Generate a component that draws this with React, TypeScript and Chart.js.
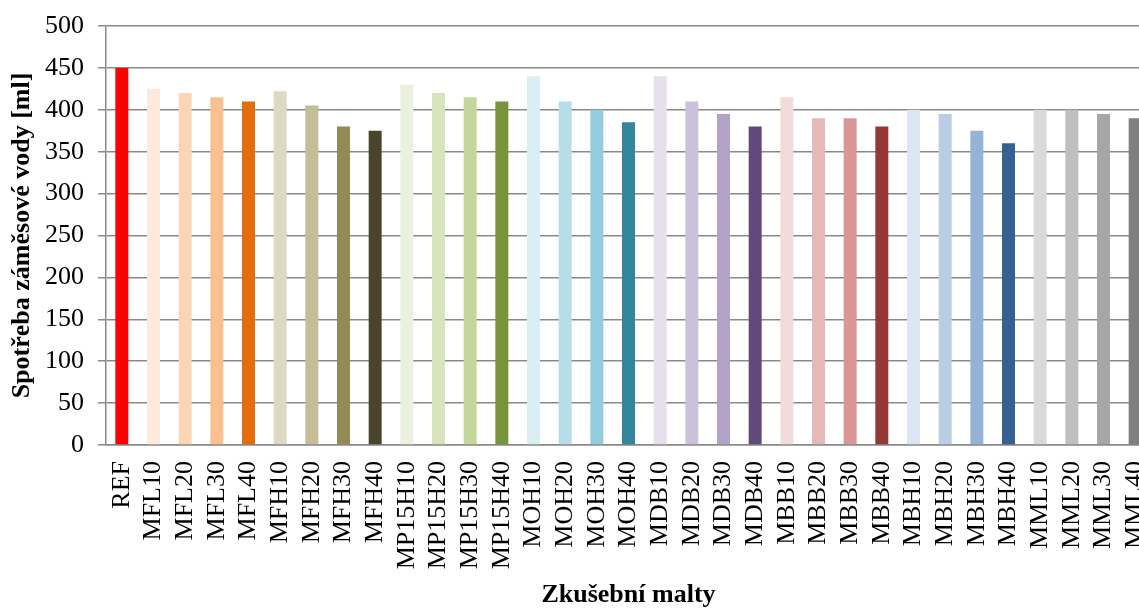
import React, { useEffect, useRef } from "react";
import { Chart, registerables } from "chart.js";

Chart.register(...registerables);

const categories = [
  "REF",
  "MFL10", "MFL20", "MFL30", "MFL40",
  "MFH10", "MFH20", "MFH30", "MFH40",
  "MP15H10", "MP15H20", "MP15H30", "MP15H40",
  "MOH10", "MOH20", "MOH30", "MOH40",
  "MDB10", "MDB20", "MDB30", "MDB40",
  "MBB10", "MBB20", "MBB30", "MBB40",
  "MBH10", "MBH20", "MBH30", "MBH40",
  "MML10", "MML20", "MML30", "MML40",
];

const waterValues = [
  450,
  425, 420, 415, 410,
  422, 405, 380, 375,
  430, 420, 415, 410,
  440, 410, 400, 385,
  440, 410, 395, 380,
  415, 390, 390, 380,
  400, 395, 375, 360,
  400, 400, 395, 390,
];

const barColors = [
  "#FF0000",
  "#FDEADA", "#FCD5B5", "#FAC090", "#E46C0A",
  "#DDD9C3", "#C4BD97", "#948A54", "#4A452A",
  "#EBF1DE", "#D7E4BD", "#C3D69B", "#77933C",
  "#DBEEF4", "#B7DEE8", "#93CDDD", "#31859C",
  "#E6E0EC", "#CCC1DA", "#B3A2C7", "#604A7B",
  "#F2DCDB", "#E6B9B8", "#D99694", "#953735",
  "#DCE6F2", "#B9CDE5", "#95B3D7", "#376092",
  "#D9D9D9", "#BFBFBF", "#A6A6A6", "#7F7F7F",
];

const yTitle = "Spotřeba záměsové vody [ml]";
const xTitle = "Zkušební malty";

const FONT = "'Liberation Serif', 'Times New Roman', serif";
const GRID = "#898989";

export default function App() {
  const ref = useRef<HTMLCanvasElement | null>(null);

  useEffect(() => {
    document.body.style.margin = "0";
    const canvas = ref.current!;
    const chart = new Chart(canvas, {
      type: "bar",
      data: {
        labels: categories,
        datasets: [
          {
            data: waterValues,
            backgroundColor: barColors,
            borderWidth: 0,
            barPercentage: 0.41,
            categoryPercentage: 1,
          },
        ],
      },
      options: {
        responsive: false,
        animation: false,
        devicePixelRatio: 1,
        layout: { padding: { top: 26, right: 9, left: 0, bottom: 0 } },
        plugins: { legend: { display: false }, tooltip: { enabled: false } },
        scales: {
          x: {
            grid: { display: false, drawTicks: false },
            border: { display: true, color: GRID, width: 1.5 },
            ticks: {
              autoSkip: false,
              minRotation: 90,
              maxRotation: 90,
              padding: 16,
              color: "#000",
              font: { family: FONT, size: 26 },
            },
            title: {
              display: true,
              text: xTitle,
              color: "#000",
              font: { family: FONT, size: 26, weight: "bold" },
              padding: { top: 0, bottom: -3 },
            },
            afterFit: (scale: any) => {
              scale.height = 163;
              scale.paddingLeft = 0;
              scale.paddingRight = 0;
            },
          },
          y: {
            min: 0,
            max: 500,
            ticks: {
              stepSize: 50,
              padding: 14,
              color: "#000",
              font: { family: FONT, size: 26 },
            },
            grid: {
              color: GRID,
              lineWidth: 1.5,
              tickLength: 8,
              tickColor: GRID,
            },
            border: { display: true, color: GRID, width: 1.5 },
            title: {
              display: true,
              text: yTitle,
              color: "#000",
              font: { family: FONT, size: 26, weight: "bold" },
              padding: { top: 7, bottom: 0 },
            },
            afterFit: (scale: any) => {
              scale.width = 106;
              scale.paddingTop = 0;
              scale.paddingBottom = 0;
            },
          },
        },
      },
    });
    return () => chart.destroy();
  }, []);

  return (
    <div
      style={{
        position: "fixed",
        left: 0,
        top: 0,
        width: 1139,
        height: 608,
        overflow: "hidden",
        background: "#fff",
      }}
    >
      <canvas ref={ref} width={1160} height={608} style={{ display: "block" }} />
    </div>
  );
}
